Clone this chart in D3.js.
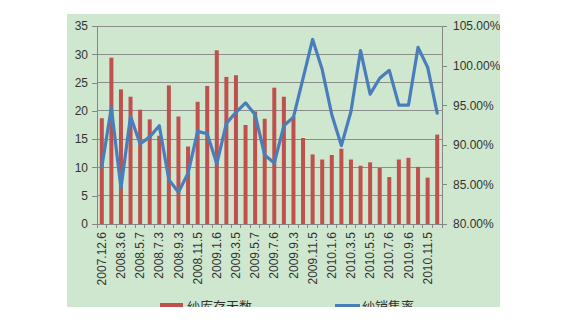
<!DOCTYPE html>
<html><head><meta charset="utf-8">
<script src="https://cdn.jsdelivr.net/npm/d3@7"></script>
<style>
html,body{margin:0;padding:0;background:#fff;}
svg{display:block;}
</style></head>
<body>
<svg id="chart" width="570" height="323"></svg>
<script>
const categories = ["2007.12.6","2008.1.8","2008.3.6","2008.4.8","2008.5.7","2008.6.5","2008.7.3","2008.8.6","2008.9.3","2008.10.8","2008.11.5","2008.12.4","2009.1.6","2009.2.5","2009.3.5","2009.4.8","2009.5.7","2009.6.4","2009.7.6","2009.8.5","2009.9.3","2009.10.14","2009.11.5","2009.12.3","2010.1.6","2010.2.4","2010.3.5","2010.4.7","2010.5.5","2010.6.4","2010.7.6","2010.8.5","2010.9.6","2010.10.14","2010.11.5","2010.12.6"];
const inventoryDays = [18.7,29.4,23.8,22.5,20.2,18.5,15.6,24.5,19.0,13.7,21.6,24.4,30.7,26.0,26.3,17.5,19.9,18.6,24.1,22.5,19.0,15.2,12.3,11.4,12.2,13.3,11.4,10.3,10.9,9.9,8.3,11.4,11.7,10.1,8.2,15.8];
const salesRate = [0.872,0.947,0.845,0.936,0.901,0.910,0.924,0.856,0.840,0.864,0.917,0.914,0.876,0.927,0.941,0.953,0.938,0.887,0.877,0.924,0.935,0.984,1.033,0.995,0.938,0.899,0.942,1.019,0.964,0.984,0.994,0.950,0.950,1.023,0.998,0.940];
const leftTicks = [0,5,10,15,20,25,30,35];
const rightTicks = [0.80,0.85,0.90,0.95,1.00,1.05];
const seriesNames = ["纱库存天数","纱销售率"];

const svg = d3.select("#chart");
const bg = {x:67,y:14,w:433,h:293};
const plot = {l:97,r:442,t:26,b:224};
const gridColor = "#8a8f8a", axisColor = "#868686", textColor = "#333";
const font = "'Liberation Sans', Arial, sans-serif";

svg.append("defs").append("clipPath").attr("id","bgclip")
  .append("rect").attr("x",bg.x).attr("y",bg.y).attr("width",bg.w).attr("height",bg.h);
const root = svg.append("g").attr("clip-path","url(#bgclip)");
root.append("rect").attr("x",bg.x).attr("y",bg.y).attr("width",bg.w).attr("height",bg.h).attr("fill","#cfe7cf");

const x = d3.scaleBand().domain(categories).range([plot.l,plot.r]).padding(0);
const yL = d3.scaleLinear().domain([0,35]).range([plot.b,plot.t]);
const yR = d3.scaleLinear().domain([0.80,1.05]).range([plot.b,plot.t]);

// gridlines
root.append("g").selectAll("line").data(leftTicks.filter(d=>d>0)).join("line")
  .attr("x1",plot.l).attr("x2",plot.r).attr("y1",d=>yL(d)).attr("y2",d=>yL(d))
  .attr("stroke",gridColor).attr("stroke-width",1).attr("shape-rendering","crispEdges");

// bars
const bw = 4;
root.append("g").selectAll("rect").data(inventoryDays).join("rect")
  .attr("x",(d,i)=>x(categories[i])+x.bandwidth()/2-bw/2)
  .attr("y",d=>yL(d)).attr("width",bw).attr("height",d=>yL(0)-yL(d))
  .attr("fill","#c0504d");

// left axis
const gL = root.append("g").attr("transform",`translate(${plot.l},0)`)
  .call(d3.axisLeft(yL).tickValues(leftTicks).tickSize(5).tickPadding(4).tickFormat(d3.format("d")));
// right axis
const gR = root.append("g").attr("transform",`translate(${plot.r},0)`)
  .call(d3.axisRight(yR).tickValues(rightTicks).tickSize(5).tickPadding(6).tickFormat(d=>(d*100).toFixed(2)+"%"));
// x axis
const gX = root.append("g").attr("transform",`translate(0,${plot.b})`)
  .call(d3.axisBottom(x).tickSize(0).tickPadding(8).tickFormat((d,i)=> i%2===0 ? d : ""));
gX.selectAll("text").attr("transform","rotate(-90)").attr("text-anchor","end")
  .attr("dy","0.35em").attr("x",-8).attr("y",0);
// category boundary ticks
const bounds = categories.map(c=>x(c)).concat([plot.r]);
root.append("g").selectAll("line").data(bounds).join("line")
  .attr("x1",d=>d).attr("x2",d=>d).attr("y1",plot.b).attr("y2",plot.b+4)
  .attr("stroke",axisColor).attr("shape-rendering","crispEdges");

[gL,gR,gX].forEach(g=>{
  g.selectAll(".domain").attr("stroke",axisColor).attr("shape-rendering","crispEdges");
  g.selectAll(".tick line").attr("stroke",axisColor).attr("shape-rendering","crispEdges");
  g.selectAll("text").attr("fill",textColor).style("font-family",font).style("font-size","12px");
});

// line
const line = d3.line().x((d,i)=>x(categories[i])+x.bandwidth()/2).y(d=>yR(d));
root.append("path").datum(salesRate).attr("d",line)
  .attr("fill","none").attr("stroke","#4a7ebb").attr("stroke-width",3.2)
  .attr("stroke-linejoin","round").attr("stroke-linecap","round");

// legend
const lg = root.append("g");
lg.append("rect").attr("x",160).attr("y",303).attr("width",23).attr("height",8).attr("fill","#c0504d");
lg.append("text").attr("x",187).attr("y",306).attr("dy","0.38em").text(seriesNames[0])
  .attr("fill",textColor).style("font-family","'Noto Sans CJK SC', sans-serif").style("font-size","13px");
lg.append("line").attr("x1",335).attr("x2",360).attr("y1",305.5).attr("y2",305.5)
  .attr("stroke","#4a7ebb").attr("stroke-width",3);
lg.append("text").attr("x",362).attr("y",306).attr("dy","0.38em").text(seriesNames[1])
  .attr("fill",textColor).style("font-family","'Noto Sans CJK SC', sans-serif").style("font-size","13px");
</script>
</body></html>
